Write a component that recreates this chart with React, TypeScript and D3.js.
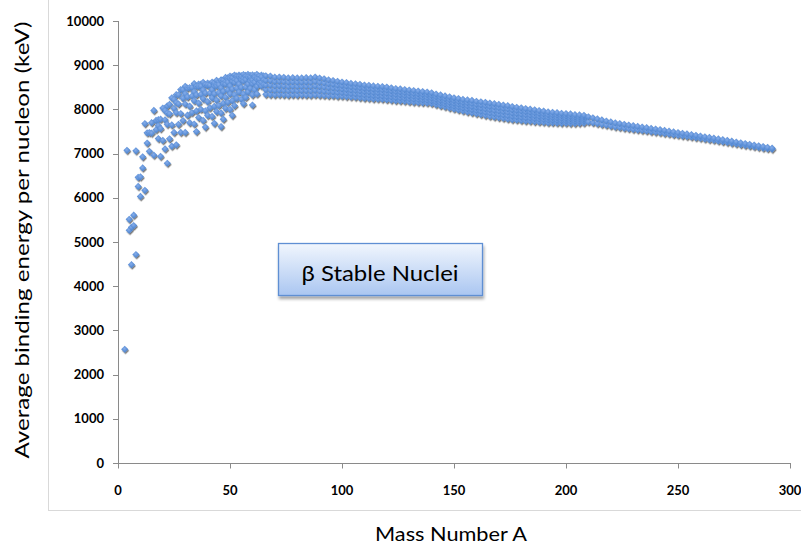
import React from 'react';
import * as d3 from 'd3';

// ---- Tick values ----
const xTicks = [0, 50, 100, 150, 200, 250, 300];
const yTicks = [0, 1000, 2000, 3000, 4000, 5000, 6000, 7000, 8000, 9000, 10000];

// ---- Light nuclei (mass number A, binding energy per nucleon keV) ----
const lightMass = [
  3, 4, 5,
  5, 6, 7,
  6, 7, 8, 9,
  8, 9, 10, 11,
  10, 11, 12, 13,
  12, 13, 14, 15,
  14, 15, 16, 17, 18,
  16, 17, 18, 19,
  18, 19, 20, 21, 22,
  19, 20, 21, 22, 23,
  21, 22, 23, 24, 25, 26,
  22, 23, 24, 25, 26, 27,
  24, 25, 26, 27, 28, 29, 30,
  26, 27, 28, 29, 30, 31,
  28, 29, 30, 31, 32, 33, 34, 36,
  30, 31, 32, 33, 34, 35, 36, 37,
  32, 33, 34, 35, 36, 37, 38, 39, 40,
  34, 35, 36, 37, 38, 39, 40, 41,
  35, 36, 37, 38, 39, 40, 41, 42, 43, 44, 46, 48,
  38, 39, 40, 41, 42, 43, 44, 45,
  39, 40, 41, 42, 43, 44, 45, 46, 47, 48, 49, 50,
  42, 43, 44, 45, 46, 47, 48, 49, 50, 51,
  43, 44, 45, 46, 47, 48, 49, 50, 51, 52, 53, 54,
  46, 47, 48, 49, 50, 51, 52, 53, 54, 55,
  46, 47, 48, 49, 50, 51, 52, 53, 54, 55, 56, 57, 58,
  50, 51, 52, 53, 54, 55, 56, 57, 58, 59,
  51, 52, 53, 54, 55, 56, 57, 58, 59, 60, 61, 62, 64,
  55, 56, 57, 58, 59, 60, 61, 62, 63, 65,
  56, 57, 58, 59, 60, 61, 62, 63, 64,
  60, 61, 62, 63, 64, 65,
  60, 62, 64, 65,
];
const lightEnergy = [
  2573, 7074, 5512,
  5266, 5332, 5606,
  4487, 5372, 7062, 6463,
  4717, 6257, 6475, 6928,
  6032, 6676, 7680, 7470,
  6170, 7239, 7476, 7699,
  7052, 7464, 7976, 7751, 7767,
  6964, 7542, 7632, 7779,
  7341, 7567, 8032, 7972, 8080,
  6938, 7298, 7766, 7916, 8112,
  7105, 7663, 7901, 8261, 8224, 8334,
  6782, 7335, 7649, 8021, 8150, 8332,
  7167, 7480, 7925, 8124, 8448, 8449, 8521,
  7198, 7663, 7907, 8251, 8354, 8481,
  7479, 7749, 8122, 8282, 8493, 8498, 8584, 8575,
  7480, 7869, 8072, 8305, 8399, 8520, 8522, 8570,
  7700, 7929, 8198, 8328, 8520, 8527, 8614, 8563, 8595,
  7670, 7966, 8142, 8340, 8438, 8557, 8538, 8576,
  7499, 7816, 8003, 8240, 8370, 8551, 8547, 8617, 8601, 8658, 8669, 8666,
  7750, 7970, 8174, 8369, 8445, 8531, 8557, 8619,
  7599, 7866, 8035, 8260, 8353, 8533, 8556, 8656, 8661, 8723, 8711, 8756,
  7840, 8070, 8210, 8380, 8486, 8582, 8623, 8683, 8696, 8742,
  7684, 7951, 8088, 8304, 8407, 8572, 8613, 8701, 8712, 8776, 8760, 8778,
  7920, 8140, 8275, 8440, 8533, 8634, 8670, 8734, 8738, 8765,
  7612, 7779, 8025, 8160, 8352, 8460, 8610, 8649, 8736, 8747, 8790, 8770, 8792,
  8000, 8200, 8330, 8478, 8570, 8670, 8695, 8742, 8739, 8768,
  7865, 8085, 8250, 8392, 8497, 8643, 8671, 8732, 8737, 8781, 8765, 8795, 8777,
  8230, 8350, 8503, 8570, 8642, 8665, 8715, 8718, 8752, 8757,
  8130, 8270, 8396, 8474, 8583, 8610, 8679, 8686, 8736,
  8330, 8446, 8519, 8584, 8612, 8662,
  8100, 8350, 8529, 8555,
];

// ---- Heavy nuclei band (A = 66..292, step 2) ----
const bandMass = [
  66, 68, 70, 72, 74, 76, 78, 80, 82, 84, 86, 88, 90, 92, 94, 96, 98, 100,
  102, 104, 106, 108, 110, 112, 114, 116, 118, 120,
  122, 124, 126, 128, 130, 132, 134, 136, 138, 140,
  142, 144, 146, 148, 150, 152, 154, 156, 158, 160,
  162, 164, 166, 168, 170, 172, 174, 176, 178, 180,
  182, 184, 186, 188, 190, 192, 194, 196, 198, 200,
  202, 204, 206, 208,
  210, 212, 214, 216, 218, 220, 222, 224, 226, 228, 230, 232, 234, 236, 238, 240,
  242, 244, 246, 248, 250, 252, 254, 256, 258, 260, 262, 264, 266, 268, 270,
  272, 274, 276, 278, 280, 282, 284, 286, 288, 290, 292,
];
const bandTop = [
  8760, 8756, 8730, 8732, 8725, 8711, 8718, 8711, 8711, 8717, 8712, 8733, 8710, 8693, 8667, 8654, 8635, 8619,
  8607, 8587, 8580, 8567, 8551, 8545, 8531, 8523, 8517, 8505,
  8488, 8473, 8463, 8449, 8438, 8428, 8414, 8403, 8393, 8376,
  8346, 8327, 8304, 8284, 8262, 8244, 8225, 8215, 8202, 8184,
  8173, 8159, 8142, 8130, 8112, 8097, 8084, 8064, 8049, 8035,
  8018, 8005, 7991, 7973, 7962, 7942, 7936, 7927, 7912, 7906,
  7897, 7880, 7875, 7867,
  7834, 7810, 7785, 7761, 7738, 7717, 7694, 7680, 7662, 7645, 7631, 7615, 7601, 7586, 7570, 7556,
  7541, 7525, 7507, 7490, 7475, 7460, 7445, 7430, 7413, 7397, 7381, 7365, 7348, 7331, 7314,
  7297, 7280, 7263, 7245, 7228, 7210, 7193, 7175, 7158, 7140, 7122,
];
const bandRow1 = [
  8655, 8651, 8630, 8633, 8626, 8615, 8621, 8615, 8616, 8619, 8614, 8632, 8612, 8598, 8578, 8568, 8551, 8539,
  8528, 8510, 8504, 8492, 8477, 8471, 8458, 8451, 8445, 8434,
  8419, 8405, 8396, 8383, 8372, 8362, 8351, 8340, 8331, 8316,
  8287, 8267, 8243, 8222, 8199, 8181, 8160, 8148, 8133, 8114,
  8101, 8086, 8068, 8055, 8038, 8023, 8009, 7991, 7977, 7964,
  7949, 7938, 7925, 7909, 7899, 7882, 7877, 7869, 7857, 7852,
  7844, 7831, 7829, 7824,
];
const bandRow2 = [
  8550, 8546, 8530, 8534, 8528, 8518, 8524, 8518, 8521, 8521, 8516, 8532, 8515, 8504, 8488, 8482, 8468, 8460,
  8448, 8434, 8428, 8416, 8403, 8398, 8386, 8379, 8374, 8363,
  8349, 8337, 8329, 8317, 8307, 8297, 8287, 8277, 8269, 8256,
  8228, 8206, 8182, 8160, 8136, 8117, 8095, 8080, 8064, 8045,
  8029, 8012, 7994, 7980, 7964, 7949, 7935, 7917, 7905, 7893,
  7879, 7870, 7858, 7844, 7836, 7821, 7818, 7811, 7801, 7798,
  7791, 7783, 7783, 7781,
];
const bandRow3 = [
  8445, 8440, 8430, 8434, 8429, 8422, 8427, 8422, 8425, 8423, 8418, 8431, 8417, 8409, 8399, 8396, 8384, 8380,
  8369, 8357, 8351, 8340, 8329, 8324, 8313, 8307, 8302, 8291,
  8280, 8268, 8262, 8251, 8241, 8231, 8224, 8213, 8207, 8195,
  8169, 8146, 8121, 8097, 8073, 8054, 8030, 8013, 7994, 7975,
  7957, 7939, 7919, 7905, 7889, 7874, 7860, 7844, 7832, 7821,
  7810, 7803, 7792, 7780, 7773, 7761, 7759, 7753, 7746, 7744,
  7738, 7734, 7736, 7738,
];
const bandBottom = [
  8340, 8335, 8330, 8335, 8330, 8325, 8330, 8325, 8330, 8325, 8320, 8330, 8320, 8315, 8310, 8310, 8300, 8300,
  8290, 8280, 8275, 8265, 8255, 8250, 8240, 8235, 8230, 8220,
  8210, 8200, 8195, 8185, 8175, 8165, 8160, 8150, 8145, 8135,
  8110, 8085, 8060, 8035, 8010, 7990, 7965, 7945, 7925, 7905,
  7885, 7865, 7845, 7830, 7815, 7800, 7785, 7770, 7760, 7750,
  7740, 7735, 7725, 7715, 7710, 7700, 7700, 7695, 7690, 7690,
  7685, 7685, 7690, 7695,
  7715, 7698, 7680, 7662, 7643, 7625, 7605, 7593, 7577, 7562, 7550, 7537, 7525, 7512, 7498, 7486,
  7473, 7459, 7444, 7429, 7415, 7402, 7389, 7376, 7361, 7347, 7332, 7318, 7302, 7287, 7270,
  7254, 7238, 7222, 7205, 7188, 7172, 7157, 7141, 7126, 7110, 7102,
];

const FONT = "Lato, 'Open Sans', sans-serif";

export default function App() {
  const x = d3.scaleLinear().domain([0, 300]).range([118, 790]);
  const y = d3.scaleLinear().domain([0, 10000]).range([463, 21]);

  const pts: [number, number][] = [];
  lightMass.forEach((a, i) => pts.push([a, lightEnergy[i]]));
  bandMass.forEach((a, i) => {
    pts.push([a, bandBottom[i]]);
    if (i < bandRow3.length) pts.push([a, bandRow3[i]]);
    if (i < bandRow2.length) pts.push([a, bandRow2[i]]);
    if (i < bandRow1.length) pts.push([a, bandRow1[i]]);
    pts.push([a, bandTop[i]]);
  });

  const r = 3.6;
  const diamond = `M0,${-r}L${r},0L0,${r}L${-r},0Z`;

  return (
    <svg width={801} height={547} style={{ position: 'absolute', left: 0, top: 0, background: '#fff' }}>
      <defs>
        <radialGradient id="mk" cx="45%" cy="40%" r="60%">
          <stop offset="0%" stopColor="#86adea" />
          <stop offset="65%" stopColor="#5a8ed6" />
          <stop offset="100%" stopColor="#4a7ec6" />
        </radialGradient>
        <filter id="mkShadow" x="-5%" y="-5%" width="110%" height="115%">
          <feDropShadow dx="0.8" dy="1.4" stdDeviation="0.7" floodColor="#000" floodOpacity="0.55" />
        </filter>
        <linearGradient id="boxFill" x1="0" y1="0" x2="0" y2="1">
          <stop offset="0%" stopColor="#f1f6fd" />
          <stop offset="100%" stopColor="#aac6f1" />
        </linearGradient>
        <filter id="boxShadow" x="-10%" y="-20%" width="120%" height="150%">
          <feDropShadow dx="1" dy="3" stdDeviation="1.8" floodColor="#000" floodOpacity="0.35" />
        </filter>
      </defs>

      {/* chart area border */}
      <rect x={48.5} y={-10} width={800} height={520.5} fill="none" stroke="#d9d9d9" strokeWidth={1} />

      {/* axes */}
      <line x1={118.5} x2={118.5} y1={y(10000)} y2={y(0)} stroke="#8a8a8a" strokeWidth={1} />
      <line x1={118} x2={x(300)} y1={y(0) + 0.5} y2={y(0) + 0.5} stroke="#8a8a8a" strokeWidth={1} />
      {yTicks.map((t) => (
        <g key={'y' + t}>
          <line x1={113} x2={118.5} y1={Math.round(y(t)) + 0.5} y2={Math.round(y(t)) + 0.5} stroke="#8a8a8a" />
          <text x={104} y={y(t)} dy="0.36em" textAnchor="end" fontFamily={FONT} fontWeight="bold" fontSize={13} fill="#000">
            {t}
          </text>
        </g>
      ))}
      {xTicks.map((t) => (
        <g key={'x' + t}>
          <line x1={Math.round(x(t)) + 0.5} x2={Math.round(x(t)) + 0.5} y1={y(0)} y2={y(0) + 5.5} stroke="#8a8a8a" />
          <text x={x(t)} y={495} textAnchor="middle" fontFamily={FONT} fontWeight="bold" fontSize={13} fill="#000">
            {t}
          </text>
        </g>
      ))}

      {/* data points */}
      <g filter="url(#mkShadow)">
        {pts.map((p, i) => (
          <path key={i} d={diamond} transform={`translate(${x(p[0])},${y(p[1])})`} fill="url(#mk)" />
        ))}
      </g>

      {/* label box */}
      <rect x={278.5} y={243.5} width={204} height={52} fill="url(#boxFill)" stroke="#5e8fd3" strokeWidth={1.3} filter="url(#boxShadow)" />
      <text x={380} y={281} textAnchor="middle" fontFamily={FONT} fontSize={22} fill="#000" textLength={157} lengthAdjust="spacingAndGlyphs">
        β Stable Nuclei
      </text>

      {/* axis titles */}
      <text
        transform="translate(29,240) rotate(-90)"
        textAnchor="middle"
        fontFamily={FONT}
        fontSize={20}
        fill="#000"
        textLength={437}
        lengthAdjust="spacingAndGlyphs"
      >
        Average binding energy per nucleon (keV)
      </text>
      <text x={451} y={541} textAnchor="middle" fontFamily={FONT} fontSize={20} fill="#000" textLength={152} lengthAdjust="spacingAndGlyphs">
        Mass Number A
      </text>
    </svg>
  );
}
